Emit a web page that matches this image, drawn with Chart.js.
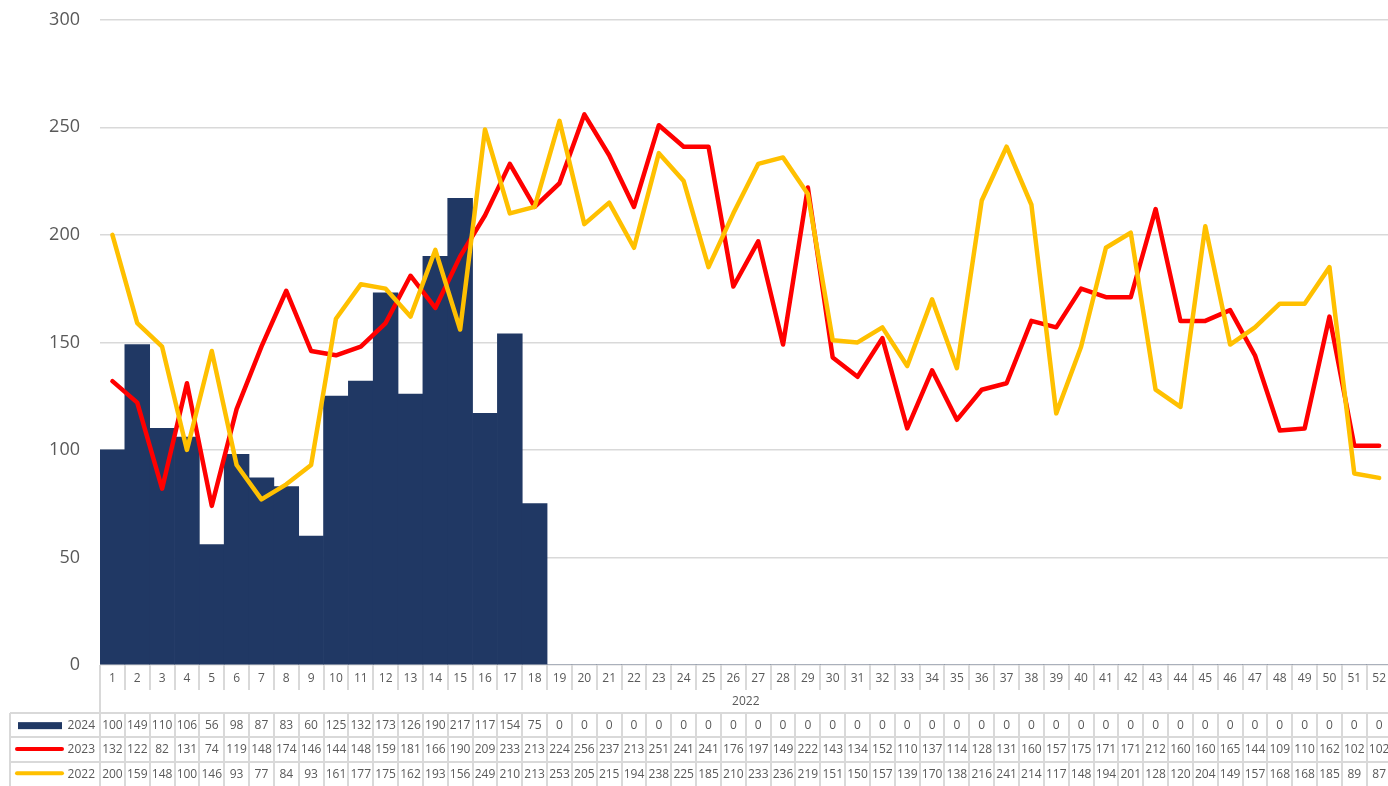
<!DOCTYPE html>
<html>
<head>
<meta charset="utf-8">
<script src="https://cdn.jsdelivr.net/npm/chart.js@4.4.0/dist/chart.umd.min.js"></script>
<style>
  html, body { margin: 0; padding: 0; background: #ffffff; }
  #wrap { position: relative; width: 1388px; height: 786px; overflow: hidden; }
  #inner { position: absolute; left: 0; top: -11px; width: 1392px; height: 797px; }
</style>
</head>
<body>
<div id="wrap"><div id="inner"><canvas id="chart"></canvas></div></div>
<script>
var weeks = [];
for (var w = 1; w <= 52; w++) weeks.push(String(w));

var groupLabel = '2022';
var yTicks = [0, 50, 100, 150, 200, 250, 300];

var s2024 = [100, 149, 110, 106, 56, 98, 87, 83, 60, 125, 132, 173, 126, 190, 217, 117, 154, 75,
  0, 0, 0, 0, 0, 0, 0, 0, 0, 0, 0, 0, 0, 0, 0, 0, 0, 0, 0, 0, 0, 0, 0, 0, 0, 0, 0, 0, 0, 0, 0, 0, 0, 0];
var s2023 = [132, 122, 82, 131, 74, 119, 148, 174, 146, 144, 148, 159, 181, 166, 190, 209, 233, 213,
  224, 256, 237, 213, 251, 241, 241, 176, 197, 149, 222, 143, 134, 152, 110, 137, 114, 128, 131, 160,
  157, 175, 171, 171, 212, 160, 160, 165, 144, 109, 110, 162, 102, 102];
var s2022 = [200, 159, 148, 100, 146, 93, 77, 84, 93, 161, 177, 175, 162, 193, 156, 249, 210, 213,
  253, 205, 215, 194, 238, 225, 185, 210, 233, 236, 219, 151, 150, 157, 139, 170, 138, 216, 241, 214,
  117, 148, 194, 201, 128, 120, 204, 149, 157, 168, 168, 185, 89, 87];

var NAVY = '#203864';
var RED = '#FF0000';
var GOLD = '#FFC000';
var GRID = '#D9D9D9';
var TEXT = '#595959';
var FONT = 'Open Sans';

// excel-style data table under the category axis
var dataTable = {
  id: 'dataTable',
  afterDraw: function (chart) {
    var ctx = chart.ctx;
    var xs = chart.scales.x;
    var top = chart.chartArea.bottom;
    var left = chart.chartArea.left;
    var right = chart.chartArea.right;
    var n = weeks.length;
    var step = (right - left) / n;
    var catBottom = top + 25;
    var groupBottom = top + 48;
    var rowH = 24.3;
    var tableLeft = 10;
    var bottom = chart.height + 2;

    ctx.save();
    ctx.strokeStyle = GRID;
    ctx.lineWidth = 2;

    // category separators
    for (var i = 0; i <= n; i++) {
      var bx = Math.round(left + i * step);
      ctx.beginPath();
      ctx.moveTo(bx, top);
      ctx.lineTo(bx, i === 0 ? bottom : catBottom);
      ctx.stroke();
      if (i > 0) {
        ctx.beginPath();
        ctx.moveTo(bx, groupBottom);
        ctx.lineTo(bx, bottom);
        ctx.stroke();
      }
    }
    // legend column
    ctx.beginPath();
    ctx.moveTo(tableLeft, groupBottom);
    ctx.lineTo(tableLeft, bottom);
    ctx.stroke();
    for (var r = 0; r < 3; r++) {
      var hy = Math.round(groupBottom + r * rowH);
      ctx.beginPath();
      ctx.moveTo(tableLeft, hy);
      ctx.lineTo(right, hy);
      ctx.stroke();
    }

    ctx.fillStyle = TEXT;
    ctx.font = '12px "' + FONT + '"';
    ctx.textAlign = 'center';
    ctx.textBaseline = 'middle';
    ctx.fillText(groupLabel, (left + right) / 2, (catBottom + groupBottom) / 2);

    var rows = [
      { name: '2024', data: s2024, color: NAVY, bar: true },
      { name: '2023', data: s2023, color: RED },
      { name: '2022', data: s2022, color: GOLD }
    ];
    rows.forEach(function (row, k) {
      var cy = groupBottom + k * rowH + rowH / 2 + 0.5;
      ctx.fillStyle = TEXT;
      ctx.textAlign = 'center';
      row.data.forEach(function (v, j) {
        ctx.fillText(String(v), xs.getPixelForValue(j), cy);
      });
      ctx.textAlign = 'right';
      ctx.fillText(row.name, 95, cy);
      if (row.bar) {
        ctx.fillStyle = row.color;
        ctx.fillRect(18, cy - 3.5, 44, 7);
      } else {
        ctx.strokeStyle = row.color;
        ctx.lineWidth = 4;
        ctx.lineCap = 'round';
        ctx.beginPath();
        ctx.moveTo(17, cy - 1);
        ctx.lineTo(62, cy - 1);
        ctx.stroke();
      }
    });
    ctx.restore();
  }
};

new Chart(document.getElementById('chart'), {
  type: 'bar',
  data: {
    labels: weeks,
    datasets: [
      {
        type: 'line',
        label: '2022',
        data: s2022,
        borderColor: GOLD,
        backgroundColor: GOLD,
        borderWidth: 4.5,
        tension: 0,
        pointRadius: 0,
        borderJoinStyle: 'round',
        borderCapStyle: 'round',
        order: 0
      },
      {
        type: 'line',
        label: '2023',
        data: s2023,
        borderColor: RED,
        backgroundColor: RED,
        borderWidth: 4.5,
        tension: 0,
        pointRadius: 0,
        borderJoinStyle: 'round',
        borderCapStyle: 'round',
        order: 1
      },
      {
        label: '2024',
        data: s2024,
        backgroundColor: NAVY,
        barPercentage: 1.0,
        categoryPercentage: 1.0,
        order: 2
      }
    ]
  },
  options: {
    responsive: true,
    maintainAspectRatio: false,
    animation: false,
    layout: { padding: 0 },
    plugins: {
      legend: { display: false },
      tooltip: { enabled: false }
    },
    scales: {
      x: {
        offset: true,
        grid: { display: false, drawTicks: false },
        border: { display: false },
        ticks: {
          color: TEXT,
          font: { family: FONT, size: 12 },
          padding: 6,
          maxRotation: 0,
          autoSkip: false
        },
        afterFit: function (scale) { scale.height = 121; }
      },
      y: {
        min: 0,
        max: 300,
        afterBuildTicks: function (scale) {
          scale.ticks = yTicks.map(function (v) { return { value: v }; });
        },
        grid: { color: GRID, lineWidth: 1.5, drawTicks: false },
        border: { display: false },
        ticks: {
          color: TEXT,
          font: { family: FONT, size: 18 },
          padding: 20
        },
        afterFit: function (scale) { scale.width = 100; }
      }
    }
  },
  plugins: [dataTable]
});
</script>
</body>
</html>
